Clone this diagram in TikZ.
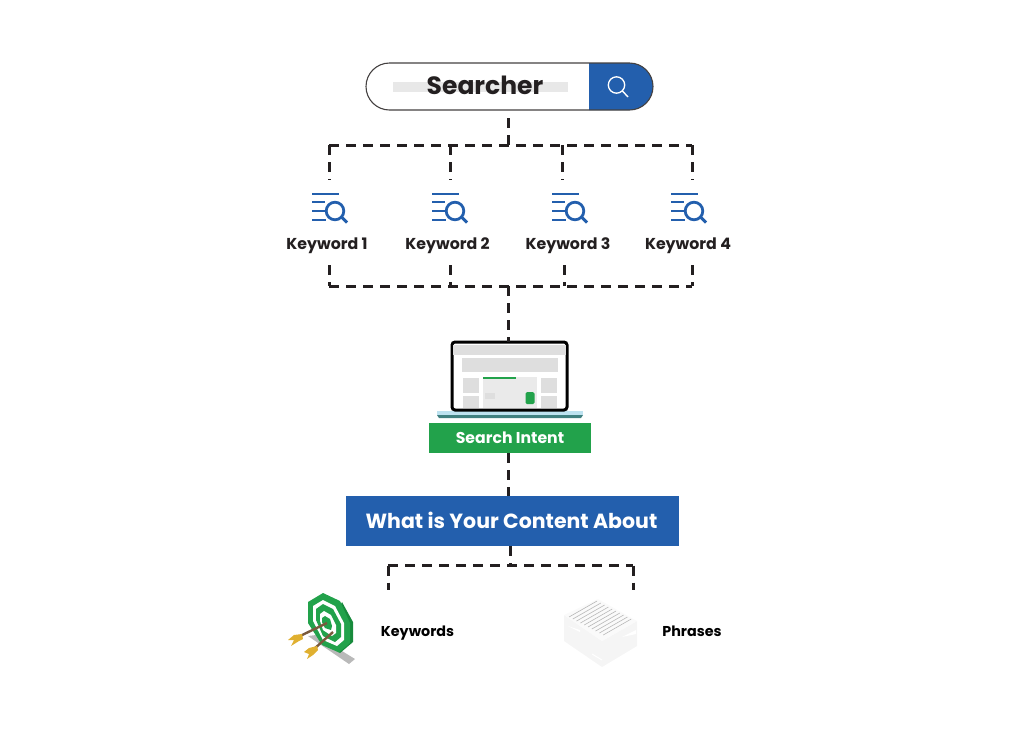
\documentclass[tikz,border=0pt]{standalone}
\usepackage{fontspec}
\setmainfont{Poppins}
\usetikzlibrary{positioning}
\definecolor{barblue}{HTML}{235FAD}
\definecolor{intentgreen}{HTML}{22A24B}
\definecolor{darkgreen}{HTML}{178A3C}
\definecolor{inktext}{HTML}{231F20}
\definecolor{panelgrey}{HTML}{DEDEDE}
\definecolor{shaftbrown}{HTML}{7A5A3C}
\definecolor{fletchyellow}{HTML}{E0B030}
\tikzset{
  dashline/.style={draw=inktext, line width=3pt, dash pattern=on 10pt off 7pt},
  kwlabel/.style={font=\bfseries\fontsize{15.8}{18}\selectfont, text=inktext, inner sep=0pt},
  sidelabel/.style={font=\bfseries\fontsize{14.3}{16}\selectfont, text=black, inner sep=0pt},
  box/.style={inner sep=0pt, text=white, font=\bfseries},
  kwicon/.pic={
    \draw[barblue, line width=1.8pt] (0,0) -- (27,0) (0,8) -- (13,8) (0,17) -- (13,17) (0,26) -- (14,26);
    \draw[barblue, line width=2.8pt] (23,17) circle (8.8);
    \draw[barblue, line width=3pt] (29.5,23) -- (35,28.5);
  }
}
\begin{document}
\begin{tikzpicture}[x=1pt, y=-1pt]
    \useasboundingbox (0,0) rectangle (1024,732);

    % Search bar
    \fill[barblue] (589,63) -- (629.5,63) arc (-90:90:23.5) -- (589,110) -- cycle;
    \node (searchbar) [draw=inktext!85, line width=1.1pt, rounded corners=23.5pt, minimum width=287pt, minimum height=47pt, inner sep=0pt] at (509.5,86.5) {};
    \fill[panelgrey!70] (393,82) rectangle (568,92);
    \node (searcher) [font=\bfseries\fontsize{25}{30}\selectfont, text=inktext, inner sep=0pt] at (485,85.5) {Searcher};
    \draw[white, line width=1.3pt] (616.5,85) circle (8.2);
    \draw[white, line width=1.4pt] (622.5,91) -- (628,97);

    % Keywords
    \foreach \n/\lx/\ix in {1/327/312, 2/447.5/432, 3/568/552, 4/688/671} {
        \pic at (\ix,194) {kwicon};
        \node (kw\n) [kwlabel] at (\lx,245.5) {Keyword \n};
    }

    % Upper bus
    \coordinate (sbar) at (508.5,118);
    \coordinate (topbus) at (508.5,145);
    \coordinate (topleft) at (329,145);
    \coordinate (topright) at (692,145);
    \draw[dashline] (sbar) -- (topbus);
    \draw[dashline] (topleft) -- (topright);
    \foreach \n/\x in {1/329, 2/450, 3/562, 4/692} {
        \coordinate (up\n) at (\x,145);
        \coordinate (kwtop\n) at (\x,180);
        \draw[dashline] (up\n) -- (kwtop\n);
    }

    % Lower bus
    \coordinate (lowleft) at (329,286);
    \coordinate (lowright) at (692,286);
    \draw[dashline] (lowleft) -- (lowright);
    \foreach \n/\x in {1/329, 2/450, 3/564, 4/692} {
        \coordinate (kwlow\n) at (\x,265);
        \coordinate (down\n) at (\x,286);
        \draw[dashline] (kwlow\n) -- (down\n);
    }

    % Laptop
    \fill[cyan!25!white!90!gray] (437,411) rectangle (583,415);
    \fill[teal!50!gray] (437,415) -- (583,415) -- (581,418) -- (439,418) -- cycle;
    \node (laptop) [draw=black, fill=white, line width=3pt, rounded corners=3pt, minimum width=115pt, minimum height=68pt, inner sep=0pt] at (509.5,376) {};
    \fill[panelgrey] (453,345) rectangle (566,355);
    \fill[panelgrey] (462,358) rectangle (558,372);
    \fill[panelgrey] (463,378) rectangle (479,393);
    \fill[panelgrey] (463,396) rectangle (479,408);
    \fill[panelgrey] (541,378) rectangle (557,393);
    \fill[panelgrey] (541,396) rectangle (557,408);
    \fill[panelgrey!65] (483,377) rectangle (537,408);
    \fill[panelgrey] (485,393) rectangle (495,399);
    \draw[intentgreen, line width=1.5pt] (483,378) -- (516,378);
    \fill[intentgreen, rounded corners=1.5pt] (525.5,392) rectangle (534.5,404);

    % Boxes
    \node (intent) [box, fill=intentgreen, minimum width=162pt, minimum height=30pt, font=\bfseries\fontsize{15.7}{18}\selectfont] at (510,438) {Search Intent};
    \node (about) [box, fill=barblue, minimum width=333pt, minimum height=50pt] at (512.5,521) {};
    \node (abouttext) [box, font=\bfseries\fontsize{20.5}{24}\selectfont] at (511.5,520) {What is Your Content About};
    \coordinate (lapin) at (508,286);
    \coordinate (lapout) at (508,342);
    \coordinate (intentout) at (508,453);
    \coordinate (aboutin) at (508,496);
    \draw[dashline] (lapin) -- (lapout);
    \draw[dashline] (intentout) -- (aboutin);

    % Lower branch
    \coordinate (aboutout) at (510,546);
    \coordinate (aboutbus) at (510,565.5);
    \coordinate (keysbus) at (388,565.5);
    \coordinate (phrasebus) at (633,565.5);
    \coordinate (keysdrop) at (388,590);
    \coordinate (phrasedrop) at (633,590);
    \draw[dashline] (aboutout) -- (aboutbus);
    \draw[dashline] (keysbus) -- (phrasebus);
    \draw[dashline] (keysbus) -- (keysdrop);
    \draw[dashline] (phrasebus) -- (phrasedrop);

    % Target
    \fill[gray!55] (308,636) -- (316,635) -- (355,659) -- (349,664) -- cycle;
    \fill[darkgreen] (342,602) -- (353,622) -- (353,642) -- (340,653) -- (336,650) -- (338,610) -- cycle;
    \fill[intentgreen] (323,593) -- (340,601) -- (350,623) -- (350,643) -- (339,652.5) -- (322,645) -- (308,623) -- (308,602) -- cycle;
    \fill[white] (323,600) -- (335,606) -- (344,623) -- (344,640) -- (337,646) -- (323,640) -- (313,621) -- (313,606) -- cycle;
    \fill[intentgreen] (323,604) -- (333,609) -- (341,624) -- (341,637) -- (335,642) -- (323,636) -- (316,620) -- (316,609) -- cycle;
    \fill[white] (324,611) -- (331,615) -- (336,625) -- (336,633) -- (332,636) -- (323,630) -- (320,621) -- (320,614) -- cycle;
    \fill[intentgreen] (325,616) -- (330,619) -- (332,626) -- (331,630) -- (325,628) -- (322,622) -- (322,618) -- cycle;
    \draw[shaftbrown, line width=2.4pt] (327,623) -- (298,637);
    \draw[shaftbrown, line width=2.4pt] (333,632) -- (314,649);
    \fill[fletchyellow] (302,634) -- (294,635) -- (288,640) -- (294,640) -- (291,646) -- (299,641) -- (303,639) -- cycle;
    \fill[fletchyellow] (317,646) -- (309,648) -- (304,652) -- (309,654) -- (307,659) -- (313,655) -- (318,650) -- cycle;
    \node (keywords) [sidelabel] at (417.5,633) {Keywords};

    % Paper stack
    \fill[black!4] (564,615) -- (564,641) -- (602,667) -- (637,646) -- (637,621) -- (602,641) -- cycle;
    \fill[black!2] (564,615) -- (598,599) -- (637,621) -- (602,641) -- cycle;
    \foreach \k in {0,...,9} {
        \draw[black!28, line width=0.6pt] (569+3.8*\k,617+2*\k) -- (597+3.8*\k,601+2*\k);
    }
    \fill[white] (568,626) -- (580,630) -- (580,632) -- cycle;
    \fill[white] (622,637) -- (636,630) -- (636,634) -- cycle;
    \draw[white, line width=1pt] (592,654) -- (602,660);
    \node (phrases) [sidelabel] at (692,631.5) {Phrases};
\end{tikzpicture}
\end{document}
